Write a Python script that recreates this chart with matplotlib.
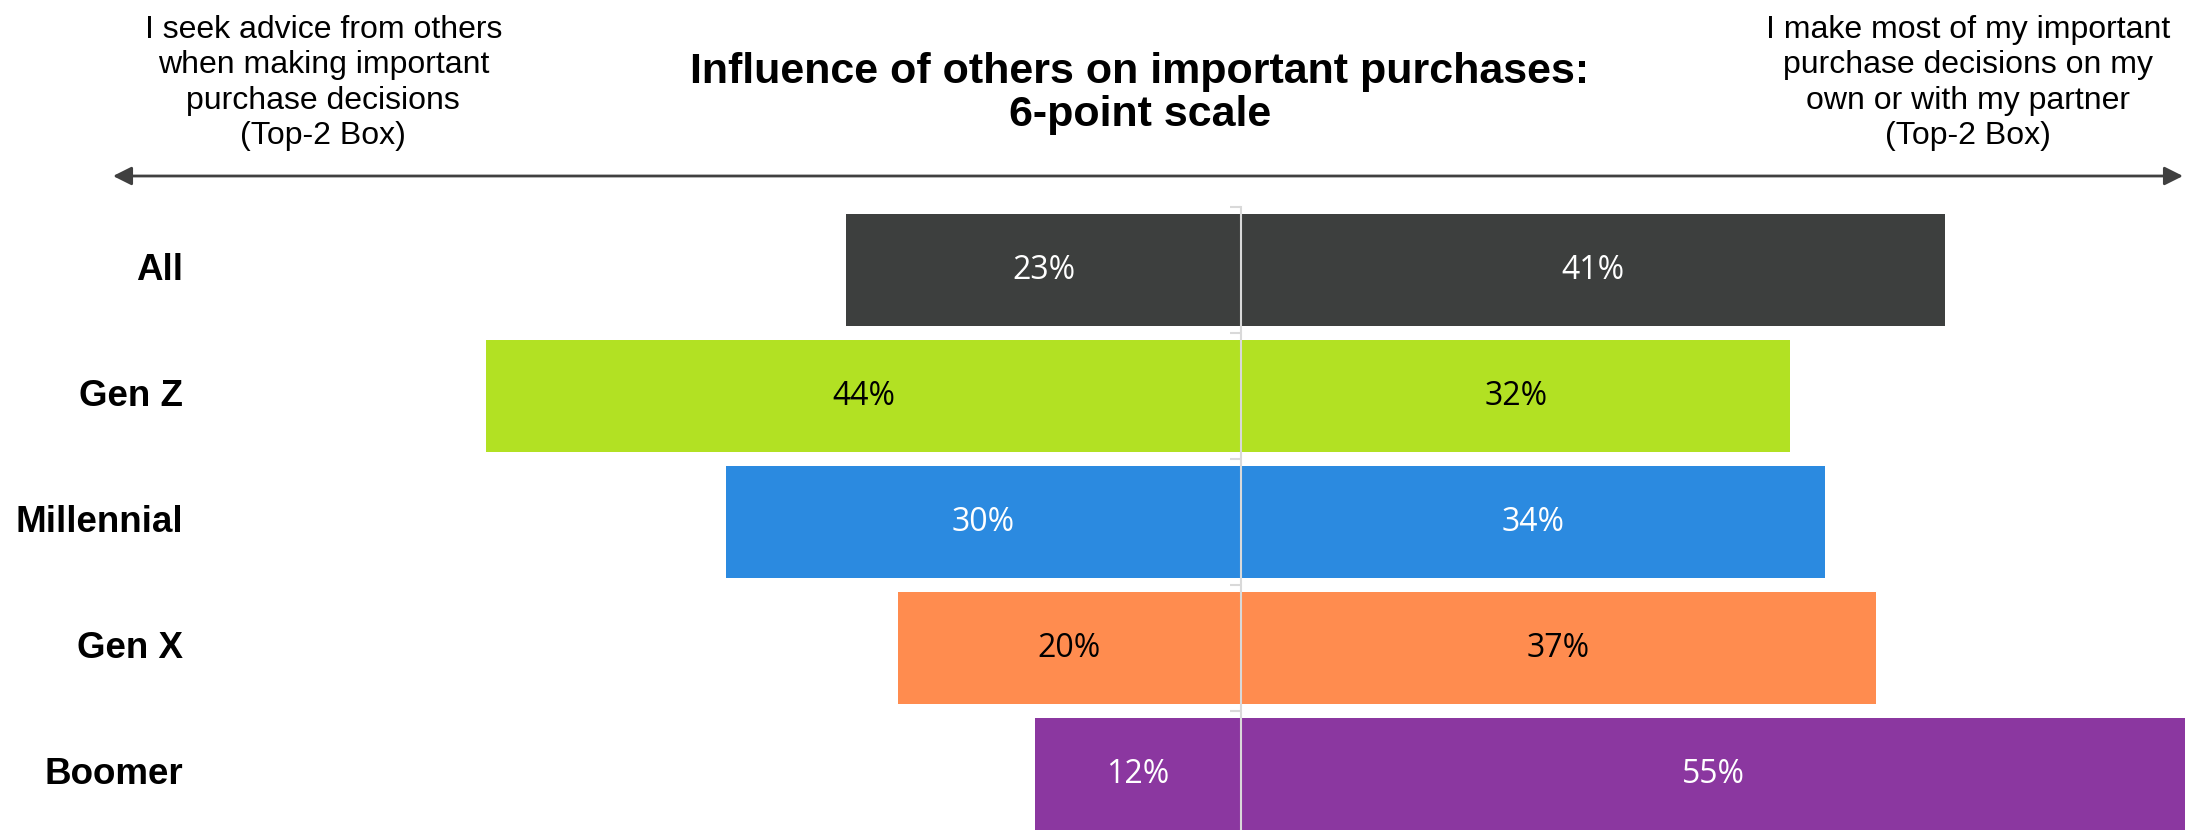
########################
## Purchase influence chart
########################

import matplotlib
matplotlib.use("Agg")
import matplotlib.pyplot as plt
import matplotlib.transforms as mtransforms

# Data
groups = ["All", "Gen Z", "Millennial", "Gen X", "Boomer"]
seek_advice = [23, 44, 30, 20, 12]      # left side, %
decide_own = [41, 32, 34, 37, 55]       # right side, %
bar_colors = ["#3d3f3e", "#b2e123", "#2b8ae0", "#ff8c4f", "#8b37a0"]
text_colors = ["white", "black", "white", "black", "white"]

title = "Influence of others on important purchases:\n6-point scale"
left_note = "I seek advice from others\nwhen making important\npurchase decisions\n(Top-2 Box)"
right_note = "I make most of my important\npurchase decisions on my\nown or with my partner\n(Top-2 Box)"

plt.rcdefaults()
plt.rcParams["font.family"] = ["Liberation Sans", "DejaVu Sans"]

fig = plt.figure(figsize=(21.92, 8.3), dpi=100)
# axes spans whole width; bottom hangs a little below the figure
ax = fig.add_axes([0, -7 / 830, 1, 630 / 830])

y = list(range(len(groups)))
ax.barh(y, [-v for v in seek_advice], height=0.89, color=bar_colors, zorder=2)
ax.barh(y, decide_own, height=0.89, color=bar_colors, zorder=2)

# Value labels in the middle of each half
for i in y:
    ax.text(-seek_advice[i] / 2, i, "{}%".format(seek_advice[i]), ha="center", va="center",
            color=text_colors[i], fontsize=23, family="Open Sans", zorder=4)
    ax.text(decide_own[i] / 2, i, "{}%".format(decide_own[i]), ha="center", va="center",
            color=text_colors[i], fontsize=23, family="Open Sans", zorder=4)

# Group names on the left side
trans = mtransforms.blended_transform_factory(fig.transFigure, ax.transData)
for i, g in enumerate(groups):
    ax.text(183 / 2192, i, g, transform=trans, ha="right", va="center",
            fontsize=26.5, fontweight="bold")

ax.set_xlim(-72.3, 55.4)
ax.set_ylim(len(groups) - 0.5, -0.5)

# Centre line with small ticks between the groups
for s in ["top", "right", "bottom"]:
    ax.spines[s].set_visible(False)
ax.spines["left"].set_position(("data", 0))
ax.spines["left"].set_color("#d9d9d9")
ax.spines["left"].set_linewidth(1.5)
ax.spines["left"].set_zorder(3)
ax.set_xticks([])
ax.set_yticks([i - 0.5 for i in y])
ax.tick_params(axis="y", direction="out", length=8, width=1.5, color="#d9d9d9",
               labelleft=False)

# Header texts and the double arrow
fig.text(0.520, 0.8874, title, ha="center", va="center", fontsize=31,
         fontweight="bold", linespacing=1.09)
fig.text(0.1475, 0.900, left_note, ha="center", va="center", fontsize=23,
         linespacing=1.24)
fig.text(0.898, 0.900, right_note, ha="center", va="center", fontsize=23,
         linespacing=1.24)
fig.add_artist(matplotlib.patches.FancyArrowPatch(
    (113 / 2192, 1 - 176 / 830), (2183 / 2192, 1 - 176 / 830),
    transform=fig.transFigure, arrowstyle="<|-|>", mutation_scale=28,
    color="#404040", linewidth=2, shrinkA=0, shrinkB=0))

fig.savefig("out.png", dpi=100)
